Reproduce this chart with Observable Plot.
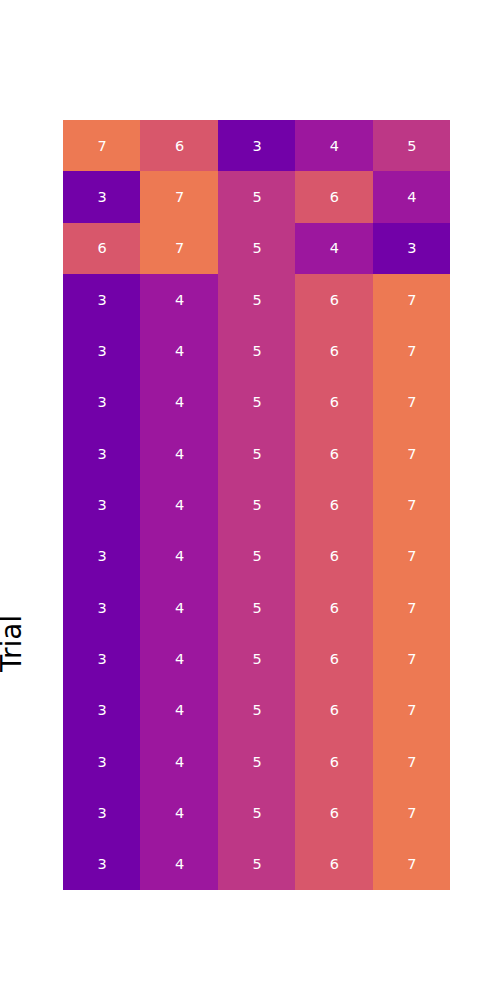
<!DOCTYPE html>
<html>
<head>
<meta charset="utf-8">
<script src="https://cdn.jsdelivr.net/npm/d3@7"></script>
<script src="https://cdn.jsdelivr.net/npm/@observablehq/plot@0.6"></script>
<style>
  html, body { margin: 0; padding: 0; background: #fff; }
  svg { display: block; }
</style>
</head>
<body>
<div id="chart"></div>
<script>
const columns = [0, 1, 2, 3, 4];
const rowValues = [
  [7, 6, 3, 4, 5],
  [3, 7, 5, 6, 4],
  [6, 7, 5, 4, 3],
  [3, 4, 5, 6, 7],
  [3, 4, 5, 6, 7],
  [3, 4, 5, 6, 7],
  [3, 4, 5, 6, 7],
  [3, 4, 5, 6, 7],
  [3, 4, 5, 6, 7],
  [3, 4, 5, 6, 7],
  [3, 4, 5, 6, 7],
  [3, 4, 5, 6, 7],
  [3, 4, 5, 6, 7],
  [3, 4, 5, 6, 7],
  [3, 4, 5, 6, 7]
];
const colorLevels = [3, 4, 5, 6, 7];
const colorRange = ["#7201a8", "#9c179e", "#bd3786", "#d8576b", "#ed7953"];
const yLabel = "Trial";

const rows = d3.range(rowValues.length);
const cells = [];
rowValues.forEach((vals, r) => vals.forEach((v, c) => cells.push({row: r, col: columns[c], value: v})));

const chart = Plot.plot({
  width: 500,
  height: 1000,
  marginLeft: 63,
  marginRight: 50,
  marginTop: 120,
  marginBottom: 110,
  style: {fontFamily: "DejaVu Sans, sans-serif", background: "#fff"},
  x: {type: "band", domain: columns, padding: 0, round: false, axis: null},
  y: {type: "band", domain: rows, padding: 0, round: false, axis: null},
  color: {type: "ordinal", domain: colorLevels, range: colorRange},
  marks: [
    Plot.cell(cells, {x: "col", y: "row", fill: "value", inset: 0, shapeRendering: "crispEdges"}),
    Plot.text(cells, {x: "col", y: "row", text: d => String(d.value), fill: "white", fontSize: 14.5, fontFamily: "DejaVu Sans"}),
    Plot.text([yLabel], {frameAnchor: "left", textAnchor: "middle", dx: -51, dy: 138, rotate: -90, fontSize: 28, fill: "black", fontFamily: "DejaVu Sans", text: d => d})
  ]
});
document.getElementById("chart").appendChild(chart);
</script>
</body>
</html>
